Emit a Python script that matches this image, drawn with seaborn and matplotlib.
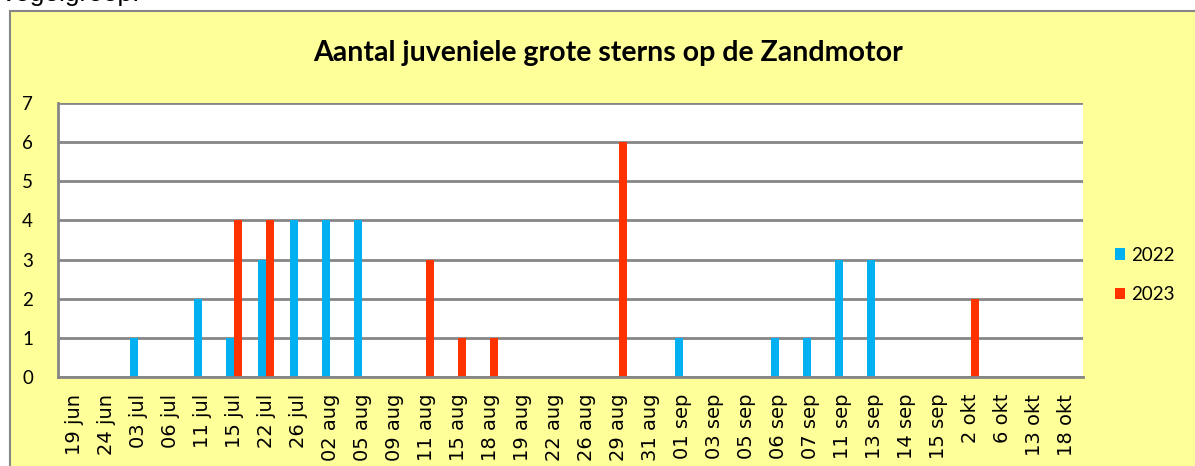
import matplotlib
matplotlib.use("Agg")
from matplotlib import pyplot as plt
from matplotlib.patches import Rectangle
import pandas as pd
import seaborn as sns

# Data
dates = ["19 jun", "24 jun", "03 jul", "06 jul", "11 jul", "15 jul", "22 jul", "26 jul",
         "02 aug", "05 aug", "09 aug", "11 aug", "15 aug", "18 aug", "19 aug", "22 aug",
         "26 aug", "29 aug", "31 aug", "01 sep", "03 sep", "05 sep", "06 sep", "07 sep",
         "11 sep", "13 sep", "14 sep", "15 sep", "2 okt", "6 okt", "13 okt", "18 okt"]
count_2022 = [0, 0, 1, 0, 2, 1, 3, 4, 4, 4, 0, 0, 0, 0, 0, 0,
              0, 0, 0, 1, 0, 0, 1, 1, 3, 3, 0, 0, 0, 0, 0, 0]
count_2023 = [0, 0, 0, 0, 0, 4, 4, 0, 0, 0, 0, 3, 1, 1, 0, 0,
              0, 6, 0, 0, 0, 0, 0, 0, 0, 0, 0, 0, 2, 0, 0, 0]
years = ["2022", "2023"]

yellow = "#FFFF99"
grey = "#868686"
colors = {"2022": "#00B0F0", "2023": "#FF3300"}

df = pd.DataFrame({
    "datum": dates * 2,
    "jaar": ["2022"] * len(dates) + ["2023"] * len(dates),
    "aantal": count_2022 + count_2023,
})

W, H = 1195, 466
fig = plt.figure(figsize=(W / 100, H / 100), dpi=100)
fig.patch.set_facecolor("white")

# yellow chart area with grey border
fig.add_artist(Rectangle((10 / W, -0.05), 1.2, 1 - 11 / H + 0.05, transform=fig.transFigure,
                         facecolor=yellow, edgecolor=grey, linewidth=1.5, zorder=0))
# heading of the page above the chart, cut off at the top as in the source
fig.text(0.03 / W, 1 - 1 / H, "Vogelgroep:", fontsize=19, family="Liberation Sans",
         va="baseline")

ax = fig.add_axes([58 / W, 1 - 377 / H, (1083 - 58) / W, (377 - 103) / H])
ax.set_facecolor("white")

sns.barplot(data=df, x="datum", y="aantal", hue="jaar", order=dates, hue_order=years,
            palette=colors, width=0.5, saturation=1, ax=ax, legend=True)

ax.set_ylim(0, 7)
ax.set_yticks(range(8))
ax.set_xlim(-0.5, len(dates) - 0.5)
ax.set_axisbelow(True)
ax.yaxis.grid(True, color=grey, linewidth=2)
ax.xaxis.grid(False)
for side in ["top", "right"]:
    ax.spines[side].set_visible(False)
for side in ["left", "bottom"]:
    ax.spines[side].set_color(grey)
    ax.spines[side].set_linewidth(2)

ax.tick_params(axis="both", length=0)
ax.tick_params(axis="y", pad=18, labelsize=13.5)
ax.tick_params(axis="x", pad=12, labelsize=14, rotation=90)
for lab in ax.get_yticklabels():
    lab.set_family("Lato")
for lab in ax.get_xticklabels():
    lab.set_family("DejaVu Sans")
ax.set_xlabel("")
ax.set_ylabel("")

leg = ax.legend(loc="center left", bbox_to_anchor=(1098 / W, 1 - 275 / H),
                bbox_transform=fig.transFigure, frameon=False, handlelength=0.55,
                handleheight=0.55, handletextpad=0.3, labelspacing=1.2,
                prop={"family": "Lato", "size": 13.5})

fig.text(608 / W, 1 - 53 / H, "Aantal juveniele grote sterns op de Zandmotor",
         ha="center", va="center", fontsize=20.5, fontweight="bold", family="Lato")

fig.savefig("out.png", dpi=100)
